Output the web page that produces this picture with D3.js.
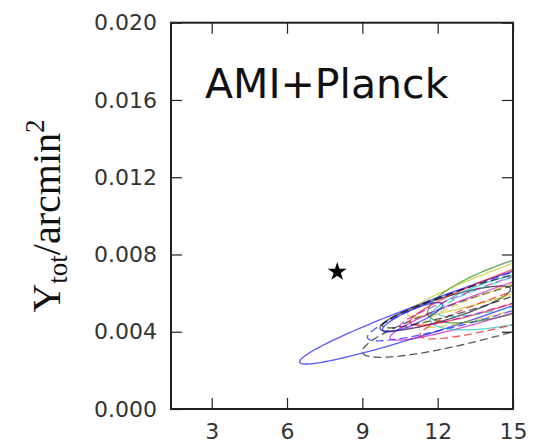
<!DOCTYPE html>
<html>
<head>
<meta charset="utf-8">
<script src="https://cdn.jsdelivr.net/npm/d3@7"></script>
<style>
  html, body { margin: 0; padding: 0; background: #fff; }
  svg { display: block; }
</style>
</head>
<body>
<svg id="chart" width="536" height="443"></svg>
<script>
// Posterior contours in the (theta_s, Y_tot) plane, each one an ellipse
// described by its centre, half-extent in theta, slope of its long axis
// and half-thickness in Y.
const centreTheta = [14.0, 15.5, 15.0, 12.3, 15.5, 16.0, 16.0, 15.5, 15.5, 16.5, 11.0, 13.5, 16.0, 16.0, 16.0];
const centreY     = [0.0058, 0.0063, 0.0052, 0.0052, 0.0065, 0.0072, 0.0068, 0.0060, 0.0058, 0.0058, 0.00475, 0.0058, 0.0066, 0.0062, 0.0064];
const halfTheta   = [7.5, 6.3, 6.0, 2.6, 3.9, 5.2, 5.1, 5.4, 3.8, 5.2, 1.2, 3.7, 5.5, 4.6, 4.0];
const axisSlope   = [0.000447, 0.00041, 0.00037, 0.000385, 0.00038, 0.00044, 0.00045, 0.000426, 0.00029, 0.00038, 0.00054, 0.0004, 0.00042, 0.0004, 0.00035];
const halfY       = [0.0009, 0.0010, 0.0012, 0.0006, 0.0014, 0.0008, 0.0009, 0.0008, 0.0013, 0.0009, 0.0004, 0.0006, 0.0007, 0.0007, 0.0008];
const contourModel = ["solid", "dashed", "dashed", "solid", "solid", "solid", "solid", "solid", "solid", "dashed", "solid", "dashed", "dashed", "dashed", "dashed"];
const contourGroup = ["b", "b", "k", "k", "g", "y", "r", "m", "c", "r", "b", "k", "m", "y", "c"];

// Simulated input cluster
const truthTheta = [8.0];
const truthY = [0.0071];

const xTicks = [3, 6, 9, 12, 15];
const yTicks = [0.000, 0.004, 0.008, 0.012, 0.016, 0.020];
const panelTitle = "AMI+Planck";

// Colour per group (matplotlib single-letter colours)
const groupColour = { b: "#0000ff", k: "#000000", g: "#008000", y: "#bfbf00", r: "#ff0000", m: "#bf00bf", c: "#00bfbf" };

const svg = d3.select("#chart");
const plotLeft = 171, plotRight = 513, plotTop = 22.7, plotBottom = 409;

const x = d3.scaleLinear().domain([1.38, 15]).range([plotLeft, plotRight]);
const y = d3.scaleLinear().domain([0, 0.02]).range([plotBottom, plotTop]);

svg.append("defs").append("clipPath").attr("id", "plotClip")
  .append("rect").attr("x", plotLeft).attr("y", plotTop)
  .attr("width", plotRight - plotLeft).attr("height", plotBottom - plotTop);

const contours = centreTheta.map((cx, i) => {
  const pts = d3.range(0, 180).map(k => {
    const t = (k / 180) * 2 * Math.PI;
    return [cx + halfTheta[i] * Math.cos(t),
            centreY[i] + halfTheta[i] * axisSlope[i] * Math.cos(t) + halfY[i] * Math.sin(t)];
  });
  return { pts, model: contourModel[i], group: contourGroup[i] };
});

const line = d3.line().x(d => x(d[0])).y(d => y(d[1])).curve(d3.curveLinearClosed);

svg.append("g").attr("clip-path", "url(#plotClip)")
  .selectAll("path").data(contours).join("path")
  .attr("d", d => line(d.pts))
  .attr("fill", "none")
  .attr("stroke", d => groupColour[d.group])
  .attr("stroke-opacity", 0.65)
  .attr("stroke-width", 1.3)
  .attr("stroke-dasharray", d => d.model === "dashed" ? "8,4" : null);

// Star marking the input values
svg.append("g").selectAll("path").data(truthTheta).join("path")
  .attr("transform", (d, i) => `translate(${x(d)},${y(truthY[i])})`)
  .attr("d", d3.symbol().type(d3.symbolStar).size(110))
  .attr("fill", "#000");

// Axes with inward ticks on all four sides
const tickLen = 11;
const axisColour = "#222";
const fmtY = d3.format(".3f");

svg.append("g").attr("transform", `translate(0,${plotBottom})`)
  .call(d3.axisBottom(x).tickValues(xTicks).tickSizeInner(-tickLen).tickSizeOuter(0).tickPadding(14).tickFormat(d3.format("d")))
  .call(g => g.select(".domain").remove());
svg.append("g").attr("transform", `translate(0,${plotTop})`)
  .call(d3.axisTop(x).tickValues(xTicks).tickSizeInner(-tickLen).tickSizeOuter(0).tickFormat(""))
  .call(g => g.select(".domain").remove());
svg.append("g").attr("transform", `translate(${plotLeft},0)`)
  .call(d3.axisLeft(y).tickValues(yTicks).tickSizeInner(-tickLen).tickSizeOuter(0).tickPadding(14).tickFormat(fmtY))
  .call(g => g.select(".domain").remove());
svg.append("g").attr("transform", `translate(${plotRight},0)`)
  .call(d3.axisRight(y).tickValues(yTicks).tickSizeInner(-tickLen).tickSizeOuter(0).tickFormat(""))
  .call(g => g.select(".domain").remove());

svg.selectAll(".tick line").attr("stroke", axisColour).attr("stroke-width", 1.2);
svg.selectAll(".tick text")
  .attr("font-family", "DejaVu Sans")
  .attr("font-size", 22)
  .attr("fill", "#333");

svg.append("rect")
  .attr("x", plotLeft).attr("y", plotTop)
  .attr("width", plotRight - plotLeft).attr("height", plotBottom - plotTop)
  .attr("fill", "none").attr("stroke", axisColour).attr("stroke-width", 2);

// Panel title
svg.append("text")
  .attr("x", 205).attr("y", 98)
  .attr("font-family", "DejaVu Sans").attr("font-size", 41).attr("fill", "#111")
  .text(panelTitle);

// Y-axis label
const yl = svg.append("text")
  .attr("transform", "translate(60,216) rotate(-90)")
  .attr("text-anchor", "middle")
  .attr("font-family", "Liberation Serif").attr("font-size", 40).attr("fill", "#111");
yl.append("tspan").text("Y");
yl.append("tspan").attr("font-size", 27).attr("dy", 7).text("tot");
yl.append("tspan").attr("dy", -7).text("/arcmin");
yl.append("tspan").attr("font-size", 27).attr("dy", -16).text("2");
</script>
</body>
</html>
